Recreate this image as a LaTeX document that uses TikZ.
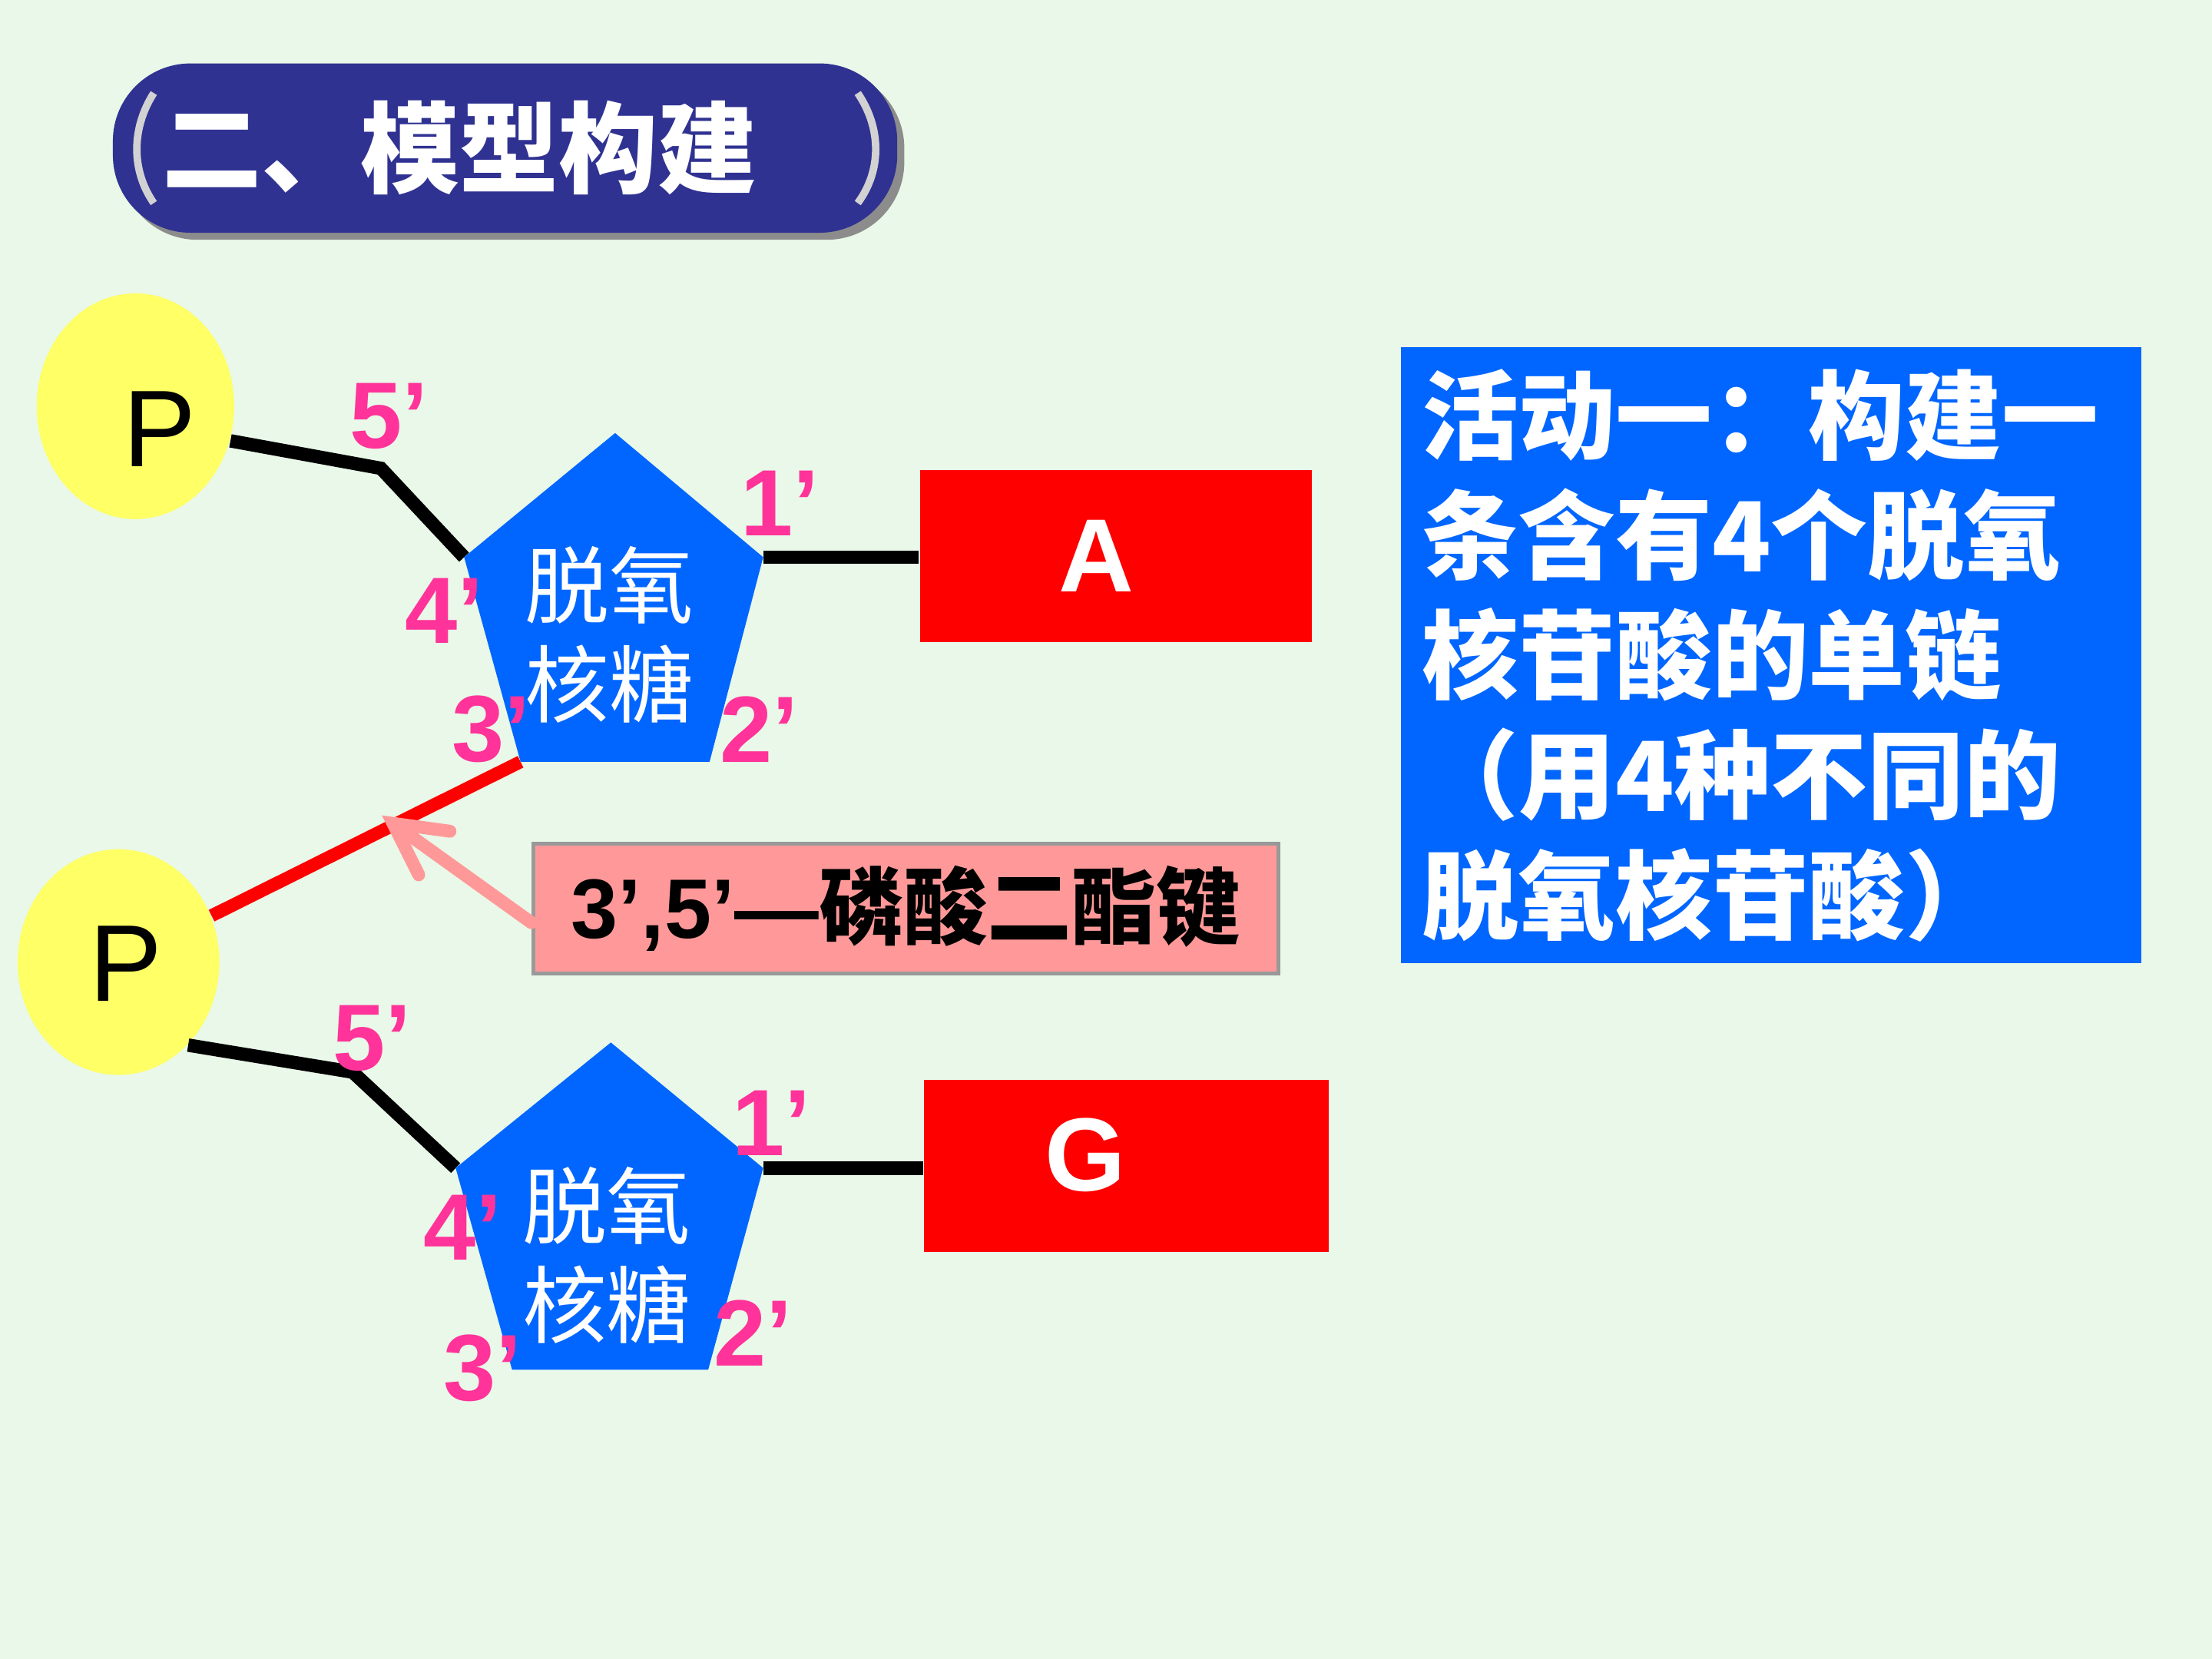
\documentclass[tikz,border=0pt]{standalone}
\usepackage{fontspec}
\setmainfont{Liberation Sans}
\newfontfamily\cjk{Noto Sans CJK SC}
\usepackage{xcolor}
\definecolor{bgmint}{RGB}{233,248,232}
\definecolor{titlenavy}{RGB}{48,50,146}
\definecolor{pyellow}{RGB}{255,255,102}
\definecolor{sugarblue}{RGB}{0,102,255}
\definecolor{basered}{RGB}{255,0,0}
\definecolor{primepink}{RGB}{255,51,153}
\definecolor{bondpink}{RGB}{255,153,153}
\usetikzlibrary{arrows.meta,positioning,calc,shapes.geometric,shadows}
\tikzset{
  pball/.style={ellipse, fill=pyellow, minimum width=1.40cm, minimum height=1.60cm, inner sep=0pt},
  ptext/.style={font=\fontsize{22}{22}\selectfont, inner sep=0pt},
  prime/.style={text=primepink, font=\fontsize{19}{19}\selectfont\bfseries, inner sep=0pt},
  base/.style={fill=basered, minimum width=#1, minimum height=1.22cm, inner sep=0pt},
  basetext/.style={text=white, font=\fontsize{21}{21}\selectfont\bfseries, inner sep=0pt},
  sugartext/.style={text=white, font=\cjk\fontsize{17}{20}\selectfont, align=center, inner sep=0pt},
  sugar/.style={fill=sugarblue},
  bondline/.style={line width=2.7pt, line join=miter},
  esterline/.style={line width=2.6pt, basered},
  bondarrow/.style={line width=2.6pt, bondpink, line cap=round,
                    -{Straight Barb[length=0.36cm, width=0.38cm, line cap=round]}},
}

\begin{document}
\begin{tikzpicture}
\useasboundingbox (0,0) rectangle (15.68,11.76);
\fill[bgmint] (0,0) rectangle (15.68,11.76);
% Title pill
\node[fill=titlenavy, rounded corners=0.55cm, minimum width=5.56cm, minimum height=1.20cm,
      text width=4.86cm, inner xsep=0.35cm, align=left, text=white,
      font=\cjk\bfseries\fontsize{20}{20}\selectfont,
      drop shadow={shadow xshift=0.05cm, shadow yshift=-0.05cm, fill=black!45, opacity=1}]
      (title) at (3.58,10.71) {二、模型构建};
\draw[gray!35, line width=1.5pt] (1.09,11.10) .. controls (0.93,10.85) and (0.93,10.55) .. (1.09,10.32);
\draw[gray!35, line width=1.5pt] (6.08,11.10) .. controls (6.25,10.85) and (6.25,10.55) .. (6.08,10.32);
% Phosphate groups
\node[pball] (p1) at (0.96,8.88) {};
\node[ptext] (p1t) at ([shift={(0.17,-0.16)}]p1) {P};
\node[pball, minimum width=1.43cm] (p2) at (0.84,4.94) {};
\node[ptext] (p2t) at ([shift={(0.05,-0.01)}]p2) {P};
% Sugar corners
\coordinate (s1t) at (4.36,8.69);
\coordinate (s1ur) at (5.41,7.81);
\coordinate (s1lr) at (5.03,6.36);
\coordinate (s1ll) at (3.69,6.36);
\coordinate (s1ul) at (3.29,7.81);
\coordinate (s2t) at (4.33,4.37);
\coordinate (s2ur) at (5.41,3.48);
\coordinate (s2lr) at (5.02,2.05);
\coordinate (s2ll) at (3.63,2.05);
\coordinate (s2ul) at (3.23,3.48);
\coordinate (c5a) at (2.70,8.44);
\coordinate (c5b) at (2.50,4.16);
% Bases
\node[base=2.78cm, label={[basetext, xshift=-0.14cm]center:A}] (baseA) at (7.91,7.82) {};
\node[base=2.87cm, label={[basetext, xshift=-0.29cm, yshift=0.08cm]center:G}] (baseG) at (7.985,3.495) {};
% Backbone
\draw[bondline] (p1.-20) -- (c5a) -- (s1ul);
\draw[bondline] (p2.-50) -- (c5b) -- (s2ul);
\draw[bondline] (s1ur) -- (s1ur -| baseA.west);
\draw[bondline] (s2ur) -- (s2ur -| baseG.west);
\draw[esterline] (s1ll) -- (p2);
\coordinate (bondpt) at ($(s1ll)!0.345!(p2)+(0,0.11)$);
% Sugars
\fill[sugar] (s1t) -- (s1ur) -- (s1lr) -- (s1ll) -- (s1ul) -- cycle;
\fill[sugar] (s2t) -- (s2ur) -- (s2lr) -- (s2ll) -- (s2ul) -- cycle;
\node[sugartext] (s1txt) at (4.32,7.26) {脱氧\\核糖};
\node[sugartext] (s2txt) at (4.30,2.86) {脱氧\\核糖};
% Carbon numbers
\node[prime] (n5a) at (2.76,8.81) {5’};
\node[prime] (n1a) at (5.53,8.19) {1’};
\node[prime] (n4a) at (3.15,7.43) {4’};
\node[prime] (n3a) at (3.48,6.59) {3’};
\node[prime] (n2a) at (5.38,6.59) {2’};
\node[prime] (n5b) at (2.64,4.40) {5’};
\node[prime] (n1b) at (5.47,3.80) {1’};
\node[prime] (n4b) at (3.28,3.06) {4’};
\node[prime] (n3b) at (3.42,2.06) {3’};
\node[prime] (n2b) at (5.34,2.31) {2’};
% Phosphodiester bond label
\node[fill=bondpink, draw=gray!80, line width=0.8pt, minimum width=5.28cm, minimum height=0.92cm,
      inner sep=0pt, font=\bfseries\fontsize{17}{17}\selectfont] (bond) at (6.42,5.32)
      {3’,5’—{\cjk 磷酸二酯键}};
\draw[bondarrow] ([yshift=-0.1cm]bond.west) -- (bondpt);
% Right: task box
\node[fill=sugarblue, minimum width=5.25cm, minimum height=4.37cm, text width=4.95cm,
      inner sep=0.15cm, align=left, text=white,
      font=\cjk\bfseries\fontsize{19.5}{24.2}\selectfont] (task) at (12.555,7.115) {%
活动一：构建一\\
条含有4个脱氧\\
核苷酸的单链\\
（用4种不同的\\
脱氧核苷酸）};
\end{tikzpicture}
\end{document}
